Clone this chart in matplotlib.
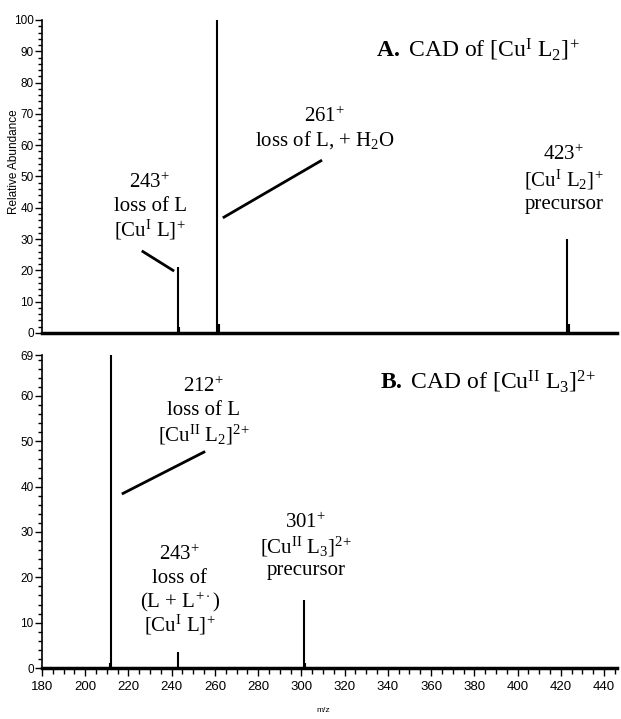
import numpy as np
import matplotlib
matplotlib.use('Agg')
import matplotlib.pyplot as plt
from matplotlib.ticker import MultipleLocator

plt.rcParams['mathtext.fontset'] = 'custom'
plt.rcParams['mathtext.rm'] = 'Liberation Serif'
plt.rcParams['mathtext.it'] = 'Liberation Serif:italic'
plt.rcParams['mathtext.bf'] = 'Liberation Serif:bold'

# 峰位置 (m/z) 与相对丰度
top_mz = [243.0, 243.6, 261.0, 261.8, 423.0, 423.8]
top_int = [21, 2, 100, 3, 30, 3]
bot_mz = [211.5, 212.0, 243.0, 301.0, 301.6]
bot_int = [1, 69, 3.5, 15, 1]

x_ticks = list(range(180, 441, 20))
top_yticks = list(range(0, 101, 10))
bot_yticks = [0, 10, 20, 30, 40, 50, 60, 69]

serif = 'Liberation Serif'
sans = 'Liberation Sans'
P = r'$^{\!+}$'
P2 = r'$^{2\!+}$'

fig = plt.figure(figsize=(6.21, 7.19), dpi=100)
ax1 = fig.add_axes([0.0676, 0.5369, 0.926, 0.4353])
ax2 = fig.add_axes([0.0676, 0.0709, 0.926, 0.4353])

for ax, mz, inten, ymax, yt in [(ax1, top_mz, top_int, 100, top_yticks),
                                (ax2, bot_mz, bot_int, 69, bot_yticks)]:
    ax.vlines(mz, 0, inten, color='black', lw=1.5)
    ax.set_xlim(180, 446)
    ax.set_ylim(0, ymax)
    ax.spines['top'].set_visible(False)
    ax.spines['right'].set_visible(False)
    ax.spines['bottom'].set_linewidth(2.5)
    ax.spines['left'].set_linewidth(1.2)
    ax.set_yticks(yt)
    ax.yaxis.set_minor_locator(MultipleLocator(2))
    ax.tick_params(axis='y', which='major', length=5, width=1, direction='out', pad=1)
    ax.tick_params(axis='y', which='minor', length=3, width=1, direction='out')
    for lab in ax.get_yticklabels():
        lab.set_family(sans)
        lab.set_fontsize(8.5)

ax1.set_xticks([])
ax2.set_xticks(x_ticks)
ax2.xaxis.set_minor_locator(MultipleLocator(5))
ax2.tick_params(axis='x', which='major', length=6, width=1, direction='out', pad=3)
ax2.tick_params(axis='x', which='minor', length=4, width=1, direction='out')
for lab in ax2.get_xticklabels():
    lab.set_family(sans)
    lab.set_fontsize(9.5)

fig.text(0.022, 0.775, 'Relative Abundance', rotation=90, ha='center', va='center',
         fontsize=8.5, family=sans)
fig.text(0.52, 0.012, 'm/z', ha='center', va='center', fontsize=6, family=sans)

# 上图标注
kw = dict(ha='center', va='center', family=serif, fontsize=15)
ax1.text(381.7, 90.5, r'$\mathbf{A.}$ CAD of [Cu$^{\mathrm{I}}$ L$_2$]' + P, fontsize=17,
         ha='center', va='center', family=serif)
ax1.text(311, 69, '261' + P, **kw)
ax1.text(311, 61.5, r'loss of L, + H$_2$O', **kw)
ax1.plot([264.2, 309], [37, 55], color='black', lw=2)
ax1.text(230, 48, '243' + P, **kw)
ax1.text(230, 40.5, 'loss of L', **kw)
ax1.text(230, 33, r'[Cu$^{\mathrm{I}}$ L]' + P, **kw)
ax1.plot([226.7, 240.6], [26, 20], color='black', lw=2)
ax1.text(421.4, 57, '423' + P, **kw)
ax1.text(421.4, 49, r'[Cu$^{\mathrm{I}}$ L$_2$]' + P, **kw)
ax1.text(421.4, 41, 'precursor', **kw)

# 下图标注
ax2.text(386.3, 63, r'$\mathbf{B.}$ CAD of [Cu$^{\mathrm{II}}$ L$_3$]' + P2, fontsize=17,
         ha='center', va='center', family=serif)
ax2.text(254.9, 62, '212' + P, **kw)
ax2.text(254.9, 56.8, 'loss of L', **kw)
ax2.text(254.9, 51.5, r'[Cu$^{\mathrm{II}}$ L$_2$]' + P2, **kw)
ax2.plot([217.5, 254.9], [38.5, 47.6], color='black', lw=2)
ax2.text(243.8, 25, '243' + P, **kw)
ax2.text(243.8, 19.7, 'loss of', **kw)
ax2.text(243.8, 14.6, r'(L + L$^{\!+\!\cdot}$)', **kw)
ax2.text(243.8, 9.5, r'[Cu$^{\mathrm{I}}$ L]' + P, **kw)
ax2.text(302, 32, '301' + P, **kw)
ax2.text(302, 26.8, r'[Cu$^{\mathrm{II}}$ L$_3$]' + P2, **kw)
ax2.text(302, 21.5, 'precursor', **kw)

fig.savefig('out.png', dpi=100)
